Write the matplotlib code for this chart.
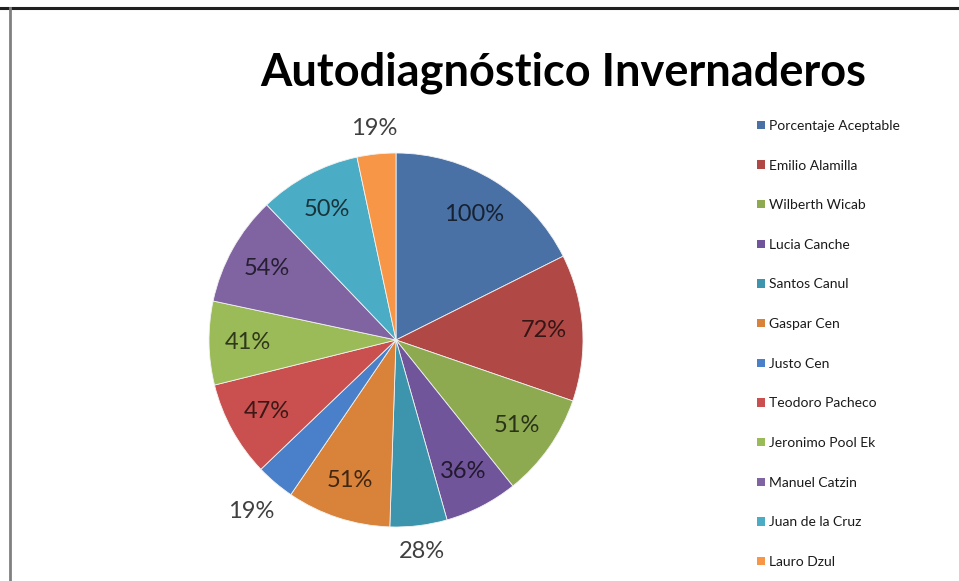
import matplotlib

matplotlib.use("Agg")
import matplotlib.pyplot as plt
from matplotlib.patches import Patch
from matplotlib.lines import Line2D
import numpy as np

plt.rcParams["font.family"] = ["Lato", "DejaVu Sans"]

TITLE = "Autodiagnóstico Invernaderos"
names = [
    "Porcentaje Aceptable",
    "Emilio Alamilla",
    "Wilberth Wicab",
    "Lucia Canche",
    "Santos Canul",
    "Gaspar Cen",
    "Justo Cen",
    "Teodoro Pacheco",
    "Jeronimo Pool Ek",
    "Manuel Catzin",
    "Juan de la Cruz",
    "Lauro Dzul",
]
values = [100, 72, 51, 36, 28, 51, 19, 47, 41, 54, 50, 19]
colors = [
    "#4A71A6", "#B04845", "#8DAA50", "#70559A", "#3D94AD", "#D9823A",
    "#4A80C9", "#C9504E", "#9BBB59", "#8064A2", "#4BACC6", "#F79646",
]
# labels of the small slices sit outside the pie
outside = [False, False, False, False, True, False, True, False, False, False, False, True]

W, H = 959, 581
fig = plt.figure(figsize=(W / 100, H / 100), dpi=100)

# frame lines of the screenshot
fig.add_artist(Line2D([0, 1], [1 - 8 / H, 1 - 8 / H], color="#202020", lw=2.2))
fig.add_artist(Line2D([10 / W, 10 / W], [0, 1 - 8 / H], color="#808080", lw=2.0))

fig.text(563 / W, 1 - 73 / H, TITLE, ha="center", va="center",
         fontsize=32.5, fontweight="bold", color="black")

cx, cy, r = 396, 340, 187
ax = fig.add_axes([(cx - r) / W, (H - cy - r) / H, 2 * r / W, 2 * r / H])
wedges, _ = ax.pie(values, colors=colors, startangle=90, counterclock=False,
                   wedgeprops=dict(edgecolor="#f2f2f2", linewidth=0.6))
ax.set_xlim(-1, 1)
ax.set_ylim(-1, 1)
ax.set_aspect("equal")
ax.axis("off")

for w, v, col, out in zip(wedges, values, colors, outside):
    ang = np.deg2rad((w.theta1 + w.theta2) / 2)
    if out:
        dist = 1.12 + 0.08 * abs(np.sin(2 * ang))
        tc = "#404040"
    else:
        dist = 0.79
        tc = tuple(c * 0.3 for c in matplotlib.colors.to_rgb(col))
    ax.text(dist * np.cos(ang), dist * np.sin(ang), f"{v}%", ha="center",
            va="center", fontsize=17, color=tc, clip_on=False)

handles = [Patch(facecolor=c, edgecolor="none") for c in colors]
fig.legend(handles, names, loc="upper left",
           bbox_to_anchor=(750 / W, 1 - 113 / H), frameon=False,
           fontsize=10, handlelength=0.55, handleheight=0.55,
           handletextpad=0.35, labelspacing=1.99, borderpad=0,
           labelcolor="#1a1a1a")

fig.savefig("out.png", dpi=100, facecolor="white")
